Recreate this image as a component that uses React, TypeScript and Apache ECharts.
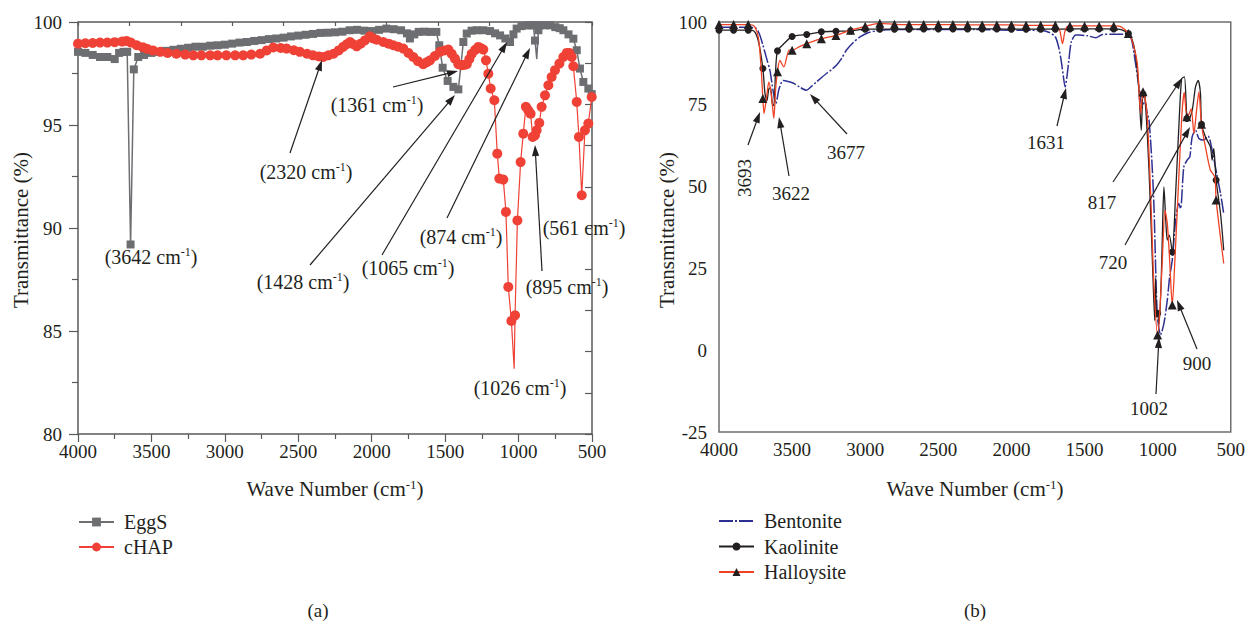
import React, { useEffect, useRef } from "react";
import * as echarts from "echarts";

// ---------- DATA (wavenumber cm-1, transmittance %) ----------
const eggS: [number, number][] = [
  [4000, 98.55], [3950, 98.5], [3900, 98.4], [3850, 98.3], [3800, 98.3], [3750, 98.2], [3720, 98.5],
  [3690, 98.55], [3665, 98.55], [3642, 89.2], [3620, 97.7], [3590, 98.3], [3550, 98.4], [3500, 98.5],
  [3450, 98.55], [3400, 98.6], [3350, 98.65], [3300, 98.7], [3250, 98.75], [3200, 98.8], [3150, 98.8],
  [3100, 98.85], [3050, 98.87], [3000, 98.9], [2950, 98.95], [2900, 99.0], [2850, 99.03], [2800, 99.08],
  [2750, 99.12], [2700, 99.17], [2650, 99.2], [2600, 99.24], [2550, 99.3], [2500, 99.34], [2450, 99.38],
  [2400, 99.42], [2350, 99.47], [2300, 99.48], [2250, 99.5], [2200, 99.53], [2150, 99.6], [2100, 99.62],
  [2050, 99.58], [2000, 99.56], [1950, 99.62], [1900, 99.68], [1850, 99.65], [1800, 99.6], [1760, 99.45],
  [1740, 99.2], [1710, 99.4], [1680, 99.52], [1640, 99.53], [1600, 99.52], [1560, 99.52], [1540, 98.87],
  [1517, 97.78], [1483, 97.14], [1444, 96.85], [1410, 96.73], [1376, 99.03], [1353, 99.44], [1320, 99.58],
  [1285, 99.6], [1240, 99.6], [1194, 99.56], [1160, 99.45], [1126, 99.35], [1090, 99.2], [1058, 99.03],
  [1035, 99.4], [1013, 99.68], [980, 99.8], [945, 99.84], [920, 99.84], [900, 99.84], [888, 99.1],
  [876, 98.2], [865, 99.6], [854, 99.84], [820, 99.84], [786, 99.84], [750, 99.75], [720, 99.7],
  [695, 99.6], [660, 99.4], [627, 99.19], [604, 98.63], [582, 97.74], [559, 97.09], [525, 96.77], [502, 96.5],
];
const eggSUnmarked = [876];

const cHAP: [number, number][] = [
  [4000, 98.95], [3950, 98.97], [3900, 98.98], [3850, 99.0], [3800, 99.0], [3750, 99.02], [3700, 99.05],
  [3670, 99.08], [3640, 99.0], [3600, 98.87], [3560, 98.78], [3530, 98.7], [3490, 98.62], [3440, 98.55],
  [3390, 98.5], [3330, 98.46], [3270, 98.42], [3215, 98.38], [3160, 98.38], [3100, 98.38], [3050, 98.38],
  [2990, 98.38], [2930, 98.38], [2875, 98.38], [2820, 98.42], [2760, 98.46], [2715, 98.62], [2670, 98.76],
  [2620, 98.74], [2580, 98.71], [2530, 98.63], [2490, 98.55], [2440, 98.46], [2400, 98.38], [2360, 98.33],
  [2330, 98.3], [2295, 98.38], [2260, 98.46], [2225, 98.62], [2195, 98.79], [2170, 98.92], [2148, 99.03],
  [2125, 98.92], [2102, 98.82], [2075, 98.95], [2046, 99.11], [2012, 99.31], [1990, 99.2], [1966, 99.14],
  [1921, 99.03], [1885, 98.95], [1853, 98.87], [1820, 98.8], [1785, 98.71], [1750, 98.5], [1717, 98.3],
  [1685, 98.1], [1649, 97.95], [1625, 98.05], [1603, 98.14], [1570, 98.35], [1535, 98.55], [1505, 98.62],
  [1478, 98.66], [1455, 98.45], [1433, 98.22], [1410, 97.95], [1387, 97.9], [1370, 97.92], [1353, 97.95],
  [1335, 98.2], [1319, 98.46], [1295, 98.65], [1274, 98.79], [1255, 98.72], [1240, 98.66], [1222, 98.14],
  [1206, 97.49], [1190, 96.77], [1165, 96.2], [1145, 93.61], [1131, 92.4], [1104, 92.35], [1086, 90.78],
  [1070, 87.14], [1049, 85.49], [1030, 83.17], [1024, 85.76], [1008, 90.37], [986, 93.2], [968, 94.58],
  [950, 95.88], [934, 95.71], [918, 95.55], [904, 94.42], [888, 94.5], [877, 94.74], [859, 95.1],
  [843, 95.88], [820, 96.44], [797, 96.93], [775, 97.33], [752, 97.66], [722, 97.98], [695, 98.3],
  [672, 98.5], [654, 98.5], [638, 98.3], [627, 97.85], [604, 96.12], [589, 94.42], [570, 91.59],
  [548, 94.74], [525, 95.07], [502, 96.36],
];
const cHAPUnmarked = [1030];

const bentonite: [number, number][] = [
  [4000, 98.5], [3900, 98.4], [3800, 98.4], [3750, 98.2], [3725, 96.5], [3700, 93], [3675, 89], [3652, 85.3],
  [3630, 79], [3611, 75.1], [3590, 79.5], [3561, 82.2], [3520, 81.8], [3493, 81.4], [3450, 80.2], [3402, 79.2],
  [3370, 80.3], [3334, 81.7], [3300, 83], [3265, 84.3], [3230, 85.5], [3197, 86.8], [3160, 89], [3129, 91.4],
  [3080, 93.8], [3038, 95.4], [2980, 96.7], [2924, 97.3], [2850, 97.6], [2765, 97.7], [2500, 97.7], [2250, 97.7],
  [2000, 97.5], [1800, 97.4], [1740, 96.8], [1700, 95.5], [1675, 92], [1660, 88.3], [1645, 83.5], [1633, 80.2],
  [1620, 83.5], [1608, 88], [1590, 94], [1560, 96], [1537, 96], [1480, 95.8], [1423, 95.2], [1378, 96.2],
  [1300, 96.3], [1219, 96.2], [1184, 95.4], [1160, 90], [1128, 80.2], [1105, 74.1], [1087, 76.1], [1071, 72.1],
  [1059, 70.1], [1040, 58], [1025, 43.6], [1003, 11.2], [980, 4.6], [957, 8.1], [934, 15.2], [918, 22.3],
  [900, 27.4], [877, 39.6], [855, 44.7], [843, 43.1], [821, 55.8], [798, 57.9], [780, 58.9], [764, 65],
  [741, 67], [718, 64.5], [684, 64], [655, 65.2], [627, 60.9], [605, 55.8], [570, 47.7], [548, 41.6],
];

const kaolinite: [number, number][] = [
  [4000, 97.5], [3900, 97.5], [3800, 97.5], [3760, 97.2], [3730, 94], [3700, 85.8], [3685, 78], [3672, 76],
  [3660, 79.5], [3648, 80], [3635, 75], [3625, 74.5], [3613, 85], [3600, 91.2], [3560, 93.2], [3500, 95.6],
  [3450, 96], [3400, 96.2], [3300, 97], [3200, 97.2], [3100, 97.3], [3000, 97.8], [2900, 97.8], [2800, 97.8],
  [2700, 97.8], [2600, 97.9], [2500, 97.9], [2400, 97.9], [2300, 97.9], [2200, 97.9], [2100, 97.9], [2000, 97.8],
  [1900, 97.8], [1800, 97.8], [1700, 97.8], [1600, 97.9], [1500, 97.9], [1400, 97.9], [1300, 97.9], [1250, 97.7],
  [1200, 96.5], [1170, 94], [1150, 89.4], [1128, 79.2], [1112, 67], [1100, 78], [1087, 77.2], [1059, 54.8],
  [1032, 22.3], [1020, 9], [1014, 22], [1008, 10], [1000, 11.2], [990, 8], [975, 22], [965, 40], [957, 49.7],
  [945, 40], [934, 33.5], [920, 35], [900, 29.9], [877, 47.7], [855, 68], [836, 82.7], [817, 83.3], [800, 70.6],
  [791, 70], [764, 73], [741, 80.2], [723, 82.2], [707, 78.2], [700, 68.8], [673, 65], [639, 61.9], [627, 57.9],
  [616, 61.4], [600, 51.8], [570, 41.6], [548, 30.4],
];

const halloysite: [number, number][] = [
  [4000, 99.2], [3900, 99.2], [3800, 99.2], [3760, 98.8], [3730, 95], [3712, 86], [3700, 76.7], [3692, 72.1],
  [3675, 77], [3659, 81.7], [3640, 77], [3625, 70.6], [3612, 80], [3600, 84.8], [3584, 88.3], [3557, 86.3],
  [3520, 91.4], [3500, 91.4], [3450, 92.5], [3400, 93.4], [3300, 94.9], [3200, 95.9], [3100, 97.5], [3000, 98.7],
  [2900, 99.6], [2800, 99.3], [2700, 99.2], [2600, 99.2], [2500, 99.2], [2400, 99.2], [2300, 99.1], [2200, 99.1],
  [2100, 99.1], [2000, 99.1], [1900, 99.0], [1800, 99.0], [1700, 99.0], [1670, 97.5], [1651, 93.4], [1635, 97],
  [1620, 98.6], [1600, 98.8], [1500, 98.8], [1400, 98.8], [1300, 98.8], [1250, 98.5], [1200, 96.5], [1173, 94],
  [1139, 87.3], [1116, 72.1], [1100, 78.7], [1090, 78], [1071, 71.1], [1048, 47.7], [1025, 19.3], [1000, 4.6],
  [985, 12], [968, 27.4], [950, 42.6], [934, 38.6], [918, 27.4], [900, 13.7], [882, 27.4], [855, 52.8],
  [832, 73.1], [818, 78.5], [800, 71.1], [785, 72], [770, 73.6], [752, 66], [734, 73], [718, 78.7], [700, 68.8],
  [673, 61.9], [639, 54.8], [609, 52.8], [600, 45.7], [548, 26.4],
];

// ---------- STYLE ----------
const FONT = "'Liberation Serif', 'DejaVu Serif', serif";
const INK = "#231f20";
const AXIS = "#58595b";
const GRAY = "#6d6e71";
const RED_A = "#ef4136";
const BLUE = "#2e3192";
const BLACK = "#231f20";
const RED_B = "#ef4123";

function supRich(size: number) {
  return {
    sup: { fontSize: Math.round(size * 0.6), fontFamily: FONT, fill: INK, verticalAlign: "top", lineHeight: Math.round(size * 0.6) },
  };
}

function txt(x: number, y: number, text: string, size: number, rotation = 0) {
  return {
    type: "text",
    x,
    y,
    rotation,
    z: 30,
    style: {
      text,
      fill: INK,
      fontFamily: FONT,
      fontSize: size,
      lineHeight: size + 2,
      align: "center",
      verticalAlign: "middle",
      textAlign: "center",
      textVerticalAlign: "middle",
      rich: supRich(size),
    },
  };
}

function arrow(x1: number, y1: number, x2: number, y2: number) {
  const dx = x2 - x1;
  const dy = y2 - y1;
  const len = Math.hypot(dx, dy);
  const ux = dx / len;
  const uy = dy / len;
  const hl = 11;
  const hw = 3.6;
  const bx = x2 - ux * hl;
  const by = y2 - uy * hl;
  return [
    { type: "line", z: 30, shape: { x1, y1, x2: bx + ux * 2, y2: by + uy * 2 }, style: { stroke: INK, lineWidth: 1.2 } },
    {
      type: "polygon",
      z: 30,
      shape: { points: [[x2, y2], [bx - uy * hw, by + ux * hw], [bx + uy * hw, by - ux * hw]] },
      style: { fill: INK },
    },
  ];
}

const annA = [
  { t: "(3642 cm{sup|-1})", x: 151, y: 257 },
  { t: "(2320 cm{sup|-1})", x: 306, y: 172, a: [290, 153, 322, 60] },
  { t: "(1361 cm{sup|-1})", x: 377, y: 105, a: [393, 87, 458, 71] },
  { t: "(1428 cm{sup|-1})", x: 303, y: 282, a: [310, 265, 455, 95] },
  { t: "(1065 cm{sup|-1})", x: 408, y: 268, a: [382, 255, 507, 42] },
  { t: "(874 cm{sup|-1})", x: 461, y: 237, a: [447, 218, 530, 48] },
  { t: "(561 cm{sup|-1})", x: 584, y: 228 },
  { t: "(895 cm{sup|-1})", x: 567, y: 287, a: [542, 271, 535, 145] },
  { t: "(1026 cm{sup|-1})", x: 520, y: 388 },
];
const annB = [
  { t: "3693", x: 744, y: 178, r: true, a: [748, 145, 760, 112] },
  { t: "3622", x: 791, y: 193, a: [789, 176, 779, 117] },
  { t: "3677", x: 846, y: 152, a: [847, 134, 810, 94] },
  { t: "1631", x: 1046, y: 142, a: [1057, 126, 1066, 88] },
  { t: "817", x: 1102, y: 202, a: [1113, 182, 1182, 78] },
  { t: "720", x: 1113, y: 262, a: [1125, 245, 1190, 127] },
  { t: "900", x: 1197, y: 363, a: [1197, 349, 1177, 300] },
  { t: "1002", x: 1149, y: 408, a: [1156, 394, 1159, 337] },
];

function buildOption() {
  const labelStyle = { color: INK, fontFamily: FONT, fontSize: 19, formatter: (v: number) => String(v) };
  const markerData = (d: [number, number][], unmarked: number[]) =>
    d.map(([v, t]) => (unmarked.includes(v) ? { value: [v, t], symbol: "none" } : [v, t]));
  const every100 = (val: number[]) => (val[0] % 100 === 0 ? 1 : 0);

  const graphics: any[] = [];
  annA.forEach((n) => {
    graphics.push(txt(n.x, n.y, n.t, 20));
    if (n.a) graphics.push(...arrow(n.a[0], n.a[1], n.a[2], n.a[3]));
  });
  annB.forEach((n: any) => {
    graphics.push(txt(n.x, n.y, n.t, 19, n.r ? Math.PI / 2 : 0));
    if (n.a) graphics.push(...arrow(n.a[0], n.a[1], n.a[2], n.a[3]));
  });
  graphics.push(txt(21, 230, "Transmittance (%)", 21, Math.PI / 2));
  graphics.push(txt(667, 230, "Transmittance (%)", 21, Math.PI / 2));
  graphics.push(txt(335, 489, "Wave Number (cm{sup|-1})", 21));
  graphics.push(txt(975, 489, "Wave Number (cm{sup|-1})", 21));
  graphics.push(txt(318, 610, "(a)", 19));
  graphics.push(txt(975, 610, "(b)", 19));

  const legendText = { color: INK, fontFamily: FONT, fontSize: 20, lineHeight: 20, padding: [0, 0, 0, 5] };

  return {
    animation: false,
    backgroundColor: "#ffffff",
    grid: [
      { left: 78, top: 22, width: 514, height: 412, show: true, borderColor: AXIS, borderWidth: 1.5, backgroundColor: "transparent" },
      { left: 719, top: 22, width: 513, height: 410, show: true, borderColor: "#6d6e71", borderWidth: 1.5, backgroundColor: "transparent" },
    ],
    xAxis: [
      {
        type: "value", gridIndex: 0, min: 500, max: 4000, interval: 500, inverse: true,
        axisLine: { show: false },
        axisTick: { show: true, length: 8, lineStyle: { color: AXIS, width: 1.2 } },
        minorTick: { show: true, splitNumber: 2, length: 5, lineStyle: { color: AXIS, width: 1.2 } },
        splitLine: { show: false },
        axisLabel: { ...labelStyle, margin: 8 },
      },
      {
        type: "value", gridIndex: 0, position: "top", min: 500, max: 4000, interval: 350,
        axisLine: { show: false },
        axisTick: { show: true, inside: true, length: 4, lineStyle: { color: AXIS, width: 1.2 } },
        splitLine: { show: false },
        axisLabel: { show: false },
      },
      {
        type: "value", gridIndex: 1, min: 500, max: 4000, interval: 500, inverse: true,
        axisLine: { show: false },
        axisTick: { show: false },
        splitLine: { show: false },
        axisLabel: { ...labelStyle, margin: 8 },
      },
    ],
    yAxis: [
      {
        type: "value", gridIndex: 0, min: 80, max: 100, interval: 5,
        axisLine: { show: false },
        axisTick: { show: true, length: 9, lineStyle: { color: AXIS, width: 1.2 } },
        minorTick: { show: true, splitNumber: 2, length: 6, lineStyle: { color: AXIS, width: 1.2 } },
        splitLine: { show: false },
        axisLabel: { ...labelStyle, margin: 16 },
      },
      {
        type: "value", gridIndex: 0, position: "right", min: 80, max: 100, interval: 2,
        axisLine: { show: false },
        axisTick: { show: true, inside: true, length: 7, lineStyle: { color: AXIS, width: 1.2 } },
        splitLine: { show: false },
        axisLabel: { show: false },
      },
      {
        type: "value", gridIndex: 1, min: -25, max: 100, interval: 25,
        axisLine: { show: false },
        axisTick: { show: false },
        splitLine: { show: false },
        axisLabel: { ...labelStyle, margin: 12 },
      },
    ],
    legend: [
      {
        data: ["EggS", "cHAP"], left: 78, top: 512, orient: "vertical", itemWidth: 35, itemHeight: 11,
        itemGap: 5, padding: 0, selectedMode: false, textStyle: legendText,
      },
      {
        data: [{ name: "Bentonite", itemStyle: { opacity: 0 } }, "Kaolinite", "Halloysite"],
        left: 718, top: 511, orient: "vertical", itemWidth: 35, itemHeight: 10,
        itemGap: 5.5, padding: 0, selectedMode: false, textStyle: legendText,
      },
    ],
    series: [
      {
        name: "EggS", type: "line", xAxisIndex: 0, yAxisIndex: 0, z: 2,
        data: markerData(eggS, eggSUnmarked),
        symbol: "rect", symbolSize: 8,
        itemStyle: { color: GRAY }, lineStyle: { color: GRAY, width: 1.5 },
      },
      {
        name: "cHAP", type: "line", xAxisIndex: 0, yAxisIndex: 0, z: 3,
        data: markerData(cHAP, cHAPUnmarked),
        symbol: "circle", symbolSize: 10,
        itemStyle: { color: RED_A }, lineStyle: { color: RED_A, width: 1.2 },
      },
      {
        name: "Bentonite", type: "line", xAxisIndex: 2, yAxisIndex: 2, z: 2,
        data: bentonite, showSymbol: false, symbol: "none", smooth: 0.25,
        itemStyle: { color: BLUE }, lineStyle: { color: BLUE, width: 1.5, type: [14, 2, 2, 2] },
      },
      {
        name: "Kaolinite", type: "line", xAxisIndex: 2, yAxisIndex: 2, z: 3,
        data: kaolinite, symbol: "circle", symbolSize: (v: number[]) => every100(v) * 7, smooth: 0.25,
        itemStyle: { color: BLACK }, lineStyle: { color: BLACK, width: 1.3 },
      },
      {
        name: "Halloysite", type: "line", xAxisIndex: 2, yAxisIndex: 2, z: 4,
        data: halloysite, symbol: "triangle", symbolSize: (v: number[]) => every100(v) * 9, smooth: 0.25,
        itemStyle: { color: BLACK }, lineStyle: { color: RED_B, width: 1.3 },
      },
    ],
    graphic: { elements: graphics },
  };
}

export default function App() {
  const ref = useRef<HTMLDivElement>(null);
  useEffect(() => {
    if (!ref.current) return;
    const chart = echarts.init(ref.current, null, { renderer: "svg" });
    chart.setOption(buildOption() as any);
    return () => chart.dispose();
  }, []);
  return (
    <div
      ref={ref}
      style={{ position: "absolute", left: 0, top: 0, width: 1248, height: 624, background: "#ffffff" }}
    />
  );
}
